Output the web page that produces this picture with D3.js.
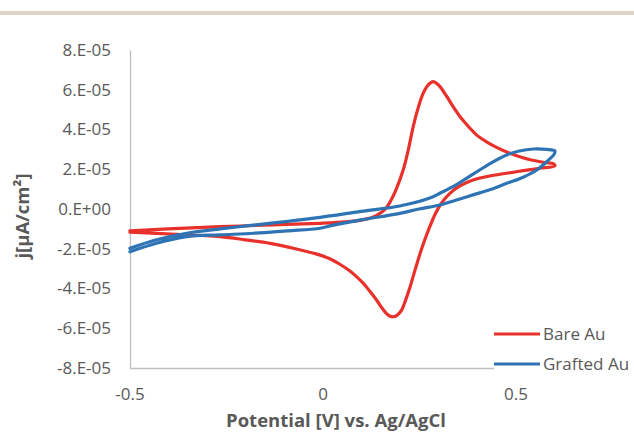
<!DOCTYPE html>
<html>
<head>
<meta charset="utf-8">
<script src="https://cdn.jsdelivr.net/npm/d3@7"></script>
<style>
  html, body { margin: 0; padding: 0; background: #fff; }
  svg { display: block; font-family: "Open Sans", sans-serif; }
</style>
</head>
<body>
<svg id="chart" width="634" height="432"></svg>
<script>
// ---- data ----
const seriesNames = ["Bare Au", "Grafted Au"];
const seriesColors = ["#e8312a", "#2e74b5"];

// Bare Au : potential (V) and current density (x1e-5), forward then reverse scan
const bareV = [-0.499, -0.4, -0.266, -0.13, -0.006, 0.06, 0.1, 0.13, 0.149, 0.163, 0.175, 0.19, 0.209, 0.222, 0.235, 0.248, 0.261, 0.274, 0.287, 0.30, 0.322, 0.34, 0.356, 0.378, 0.399, 0.425, 0.451, 0.477, 0.503, 0.538, 0.575, 0.598,
               0.602, 0.563, 0.52, 0.477, 0.43, 0.39, 0.355, 0.33, 0.308, 0.292, 0.278, 0.265, 0.253, 0.24, 0.227, 0.215, 0.205, 0.193, 0.183, 0.174, 0.166, 0.153, 0.14, 0.123, 0.106, 0.088, 0.071, 0.045, 0.019, -0.006, -0.07, -0.136, -0.2, -0.266, -0.38, -0.499];
const bareJ = [-1.1, -1.0, -0.89, -0.8, -0.72, -0.65, -0.56, -0.42, -0.22, 0.0, 0.35, 0.95, 1.96, 2.95, 4.15, 5.1, 5.83, 6.25, 6.41, 6.25, 5.66, 5.1, 4.65, 4.15, 3.73, 3.38, 3.1, 2.87, 2.68, 2.48, 2.34, 2.28,
               2.17, 2.05, 1.93, 1.8, 1.65, 1.46, 1.15, 0.79, 0.29, -0.25, -0.89, -1.55, -2.23, -3.05, -3.91, -4.6, -5.09, -5.35, -5.42, -5.38, -5.26, -4.95, -4.58, -4.15, -3.74, -3.4, -3.12, -2.78, -2.5, -2.32, -2.0, -1.73, -1.55, -1.39, -1.27, -1.17];

// Grafted Au
const graftV = [-0.499, -0.43, -0.352, -0.265, -0.179, -0.09, -0.006, 0.1, 0.2, 0.278, 0.304, 0.345, 0.39, 0.435, 0.477, 0.51, 0.546, 0.58, 0.602,
                0.6, 0.585, 0.555, 0.52, 0.477, 0.435, 0.39, 0.345, 0.304, 0.25, 0.2, 0.1, 0.028, -0.006, -0.09, -0.179, -0.265, -0.352, -0.43, -0.499];
const graftJ = [-1.98, -1.55, -1.22, -1.0, -0.81, -0.62, -0.42, -0.12, 0.15, 0.55, 0.79, 1.2, 1.75, 2.3, 2.72, 2.92, 3.02, 3.0, 2.92,
                2.75, 2.45, 1.96, 1.6, 1.29, 0.98, 0.71, 0.44, 0.2, 0.0, -0.22, -0.55, -0.81, -0.97, -1.1, -1.22, -1.3, -1.39, -1.72, -2.15];

const xTicks = [-0.5, 0, 0.5];
const xTickLabels = ["-0.5", "0", "0.5"];
const yTicks = [8e-5, 6e-5, 4e-5, 2e-5, 0, -2e-5, -4e-5, -6e-5, -8e-5];
const yTickLabels = ["8.E-05", "6.E-05", "4.E-05", "2.E-05", "0.E+00", "-2.E-05", "-4.E-05", "-6.E-05", "-8.E-05"];

// ---- drawing ----
const svg = d3.select("#chart");
const textColor = "#595959";
const axisColor = "#bfbfbf";

// top decorative band
svg.append("rect").attr("x", 0).attr("y", 11).attr("width", 634).attr("height", 4).attr("fill", "#ddd5c5");

const x = d3.scaleLinear().domain([-0.5, 1]).range([129.5, 708.5]);
const y = d3.scaleLinear().domain([-8e-5, 8e-5]).range([368, 50]);

// y axis
const yAxis = svg.append("g").attr("transform", "translate(130,0)")
  .call(d3.axisLeft(y).tickValues(yTicks).tickSize(0).tickPadding(19)
        .tickFormat((d, i) => yTickLabels[i]));
yAxis.select(".domain").attr("stroke", axisColor).attr("stroke-width", 1.3);
yAxis.selectAll("text").attr("fill", textColor).style("font-size", "17px").style("font-family", "Open Sans");

// x axis
const xAxis = svg.append("g").attr("transform", "translate(0,368)")
  .call(d3.axisBottom(x).tickValues(xTicks).tickSize(0).tickPadding(20)
        .tickFormat((d, i) => xTickLabels[i]));
xAxis.select(".domain").attr("stroke", axisColor).attr("stroke-width", 1.3);
xAxis.selectAll("text").attr("fill", textColor).style("font-size", "17px").style("font-family", "Open Sans");

// curves
const line = d3.line().x(d => x(d[0])).y(d => y(d[1] * 1e-5)).curve(d3.curveCatmullRom.alpha(0.5));
const series = [
  bareV.map((v, i) => [v, bareJ[i]]),
  graftV.map((v, i) => [v, graftJ[i]])
];
series.forEach((pts, i) => {
  svg.append("path").datum(pts).attr("d", line)
    .attr("fill", "none").attr("stroke", seriesColors[i]).attr("stroke-width", 3.2)
    .attr("stroke-linejoin", "round").attr("stroke-linecap", "round");
});

// legend
const lg = svg.append("g");
lg.append("rect").attr("x", 494).attr("y", 320).attr("width", 140).attr("height", 60).attr("fill", "#fff");
seriesNames.forEach((name, i) => {
  const ly = 334 + i * 30;
  lg.append("line").attr("x1", 494).attr("x2", 540).attr("y1", ly).attr("y2", ly)
    .attr("stroke", seriesColors[i]).attr("stroke-width", 3.2);
  lg.append("text").attr("x", 543).attr("y", ly).attr("dy", "0.35em")
    .attr("fill", textColor).style("font-size", "17px").text(name);
});

// axis titles
svg.append("text").attr("x", 336).attr("y", 421).attr("dy", "0.35em")
  .attr("text-anchor", "middle").attr("fill", textColor)
  .style("font-size", "18.5px").style("font-weight", "bold")
  .text("Potential [V] vs. Ag/AgCl");

svg.append("text").attr("transform", "translate(23,216) rotate(-90)")
  .attr("dy", "0.35em").attr("text-anchor", "middle").attr("fill", textColor)
  .style("font-size", "18.5px").style("font-weight", "bold")
  .text("j[μA/cm²]");
</script>
</body>
</html>
